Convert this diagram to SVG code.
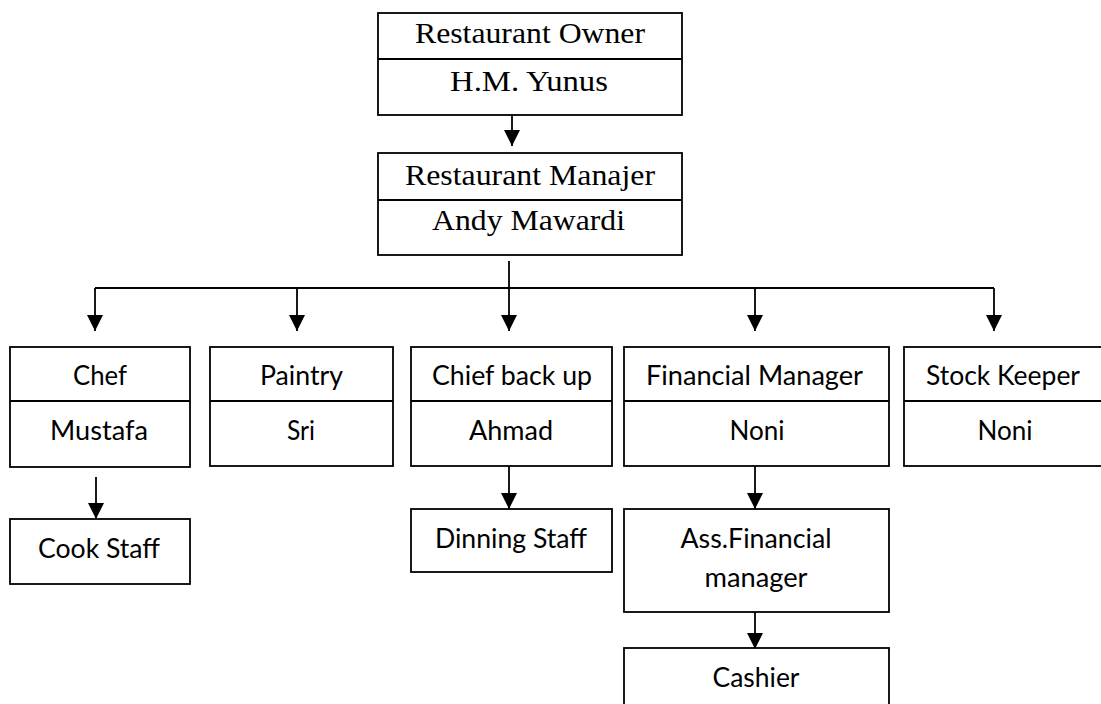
<svg xmlns="http://www.w3.org/2000/svg" width="1101" height="704" viewBox="0 0 1101 704">
<style>
  .box { fill: #ffffff; stroke: #000000; stroke-width: 1.8; }
  .div { stroke: #000000; stroke-width: 1.8; }
  .con { fill: none; stroke: #000000; stroke-width: 1.8; }
  .serif { font-family: "Liberation Serif", "Times New Roman", serif; font-size: 30px; fill: #000; text-anchor: middle; }
  .sans { font-family: Lato, "Open Sans", "Liberation Sans", sans-serif; font-size: 26px; fill: #000; text-anchor: middle; }
</style>
<defs>
  <marker id="arr" markerUnits="userSpaceOnUse" markerWidth="16" markerHeight="16" viewBox="0 0 15 15" refX="15" refY="7.5" orient="auto">
    <path d="M0,0 L15,7.5 L0,15 z" fill="#000"/>
  </marker>
</defs>
<rect width="1101" height="704" fill="#ffffff"/>

<g id="connectors">
  <line class="con" x1="512" y1="115" x2="512" y2="146" marker-end="url(#arr)"/>
  <line class="con" x1="509" y1="261" x2="509" y2="288"/>
  <line class="con" x1="95" y1="288" x2="994" y2="288"/>
  <line class="con" x1="95" y1="288" x2="95" y2="331" marker-end="url(#arr)"/>
  <line class="con" x1="297" y1="288" x2="297" y2="331" marker-end="url(#arr)"/>
  <line class="con" x1="509" y1="288" x2="509" y2="331" marker-end="url(#arr)"/>
  <line class="con" x1="755" y1="288" x2="755" y2="331" marker-end="url(#arr)"/>
  <line class="con" x1="994" y1="288" x2="994" y2="331" marker-end="url(#arr)"/>
  <line class="con" x1="96" y1="477" x2="96" y2="519" marker-end="url(#arr)"/>
  <line class="con" x1="509" y1="466" x2="509" y2="509" marker-end="url(#arr)"/>
  <line class="con" x1="755" y1="466" x2="755" y2="509" marker-end="url(#arr)"/>
  <line class="con" x1="755" y1="612" x2="755" y2="649" marker-end="url(#arr)"/>
</g>

<g id="owner">
  <rect class="box" x="378" y="13" width="304" height="102"/>
  <line class="div" x1="378" y1="59" x2="682" y2="59"/>
  <text class="serif" x="530" y="43" textLength="230" lengthAdjust="spacingAndGlyphs">Restaurant Owner</text>
  <text class="serif" x="529" y="91" textLength="158" lengthAdjust="spacingAndGlyphs">H.M. Yunus</text>
</g>

<g id="manager">
  <rect class="box" x="378" y="153" width="304" height="102"/>
  <line class="div" x1="378" y1="200" x2="682" y2="200"/>
  <text class="serif" x="530" y="185" textLength="250" lengthAdjust="spacingAndGlyphs">Restaurant Manajer</text>
  <text class="serif" x="528.5" y="230" textLength="193" lengthAdjust="spacingAndGlyphs">Andy Mawardi</text>
</g>

<g id="chef">
  <rect class="box" x="10" y="347" width="180" height="120"/>
  <line class="div" x1="10" y1="401" x2="190" y2="401"/>
  <text class="sans" x="100" y="385" textLength="54" lengthAdjust="spacingAndGlyphs">Chef</text>
  <text class="sans" x="99" y="440" textLength="98" lengthAdjust="spacingAndGlyphs">Mustafa</text>
</g>

<g id="paintry">
  <rect class="box" x="210" y="347" width="183" height="119"/>
  <line class="div" x1="210" y1="401" x2="393" y2="401"/>
  <text class="sans" x="301.5" y="385" textLength="83" lengthAdjust="spacingAndGlyphs">Paintry</text>
  <text class="sans" x="301" y="440" textLength="28" lengthAdjust="spacingAndGlyphs">Sri</text>
</g>

<g id="chief-back-up">
  <rect class="box" x="411" y="347" width="201" height="119"/>
  <line class="div" x1="411" y1="401" x2="612" y2="401"/>
  <text class="sans" x="512" y="385" textLength="160" lengthAdjust="spacingAndGlyphs">Chief back up</text>
  <text class="sans" x="511" y="440" textLength="84" lengthAdjust="spacingAndGlyphs">Ahmad</text>
</g>

<g id="financial-manager">
  <rect class="box" x="624" y="347" width="265" height="119"/>
  <line class="div" x1="624" y1="401" x2="889" y2="401"/>
  <text class="sans" x="754.5" y="385" textLength="217" lengthAdjust="spacingAndGlyphs">Financial Manager</text>
  <text class="sans" x="757" y="440" textLength="55" lengthAdjust="spacingAndGlyphs">Noni</text>
</g>

<g id="stock-keeper">
  <rect class="box" x="904" y="347" width="202" height="119"/>
  <line class="div" x1="904" y1="401" x2="1106" y2="401"/>
  <text class="sans" x="1003" y="385" textLength="154" lengthAdjust="spacingAndGlyphs">Stock Keeper</text>
  <text class="sans" x="1005" y="440" textLength="55" lengthAdjust="spacingAndGlyphs">Noni</text>
</g>

<g id="cook-staff">
  <rect class="box" x="10" y="519" width="180" height="65"/>
  <text class="sans" x="99" y="558" textLength="122" lengthAdjust="spacingAndGlyphs">Cook Staff</text>
</g>

<g id="dinning-staff">
  <rect class="box" x="411" y="509" width="201" height="63"/>
  <text class="sans" x="511" y="548" textLength="152" lengthAdjust="spacingAndGlyphs">Dinning Staff</text>
</g>

<g id="ass-financial-manager">
  <rect class="box" x="624" y="509" width="265" height="103"/>
  <text class="sans" x="756" y="548" textLength="151" lengthAdjust="spacingAndGlyphs">Ass.Financial</text>
  <text class="sans" x="756" y="587" textLength="103" lengthAdjust="spacingAndGlyphs">manager</text>
</g>

<g id="cashier">
  <rect class="box" x="624" y="648" width="265" height="70"/>
  <text class="sans" x="756" y="687" textLength="87" lengthAdjust="spacingAndGlyphs">Cashier</text>
</g>
</svg>
